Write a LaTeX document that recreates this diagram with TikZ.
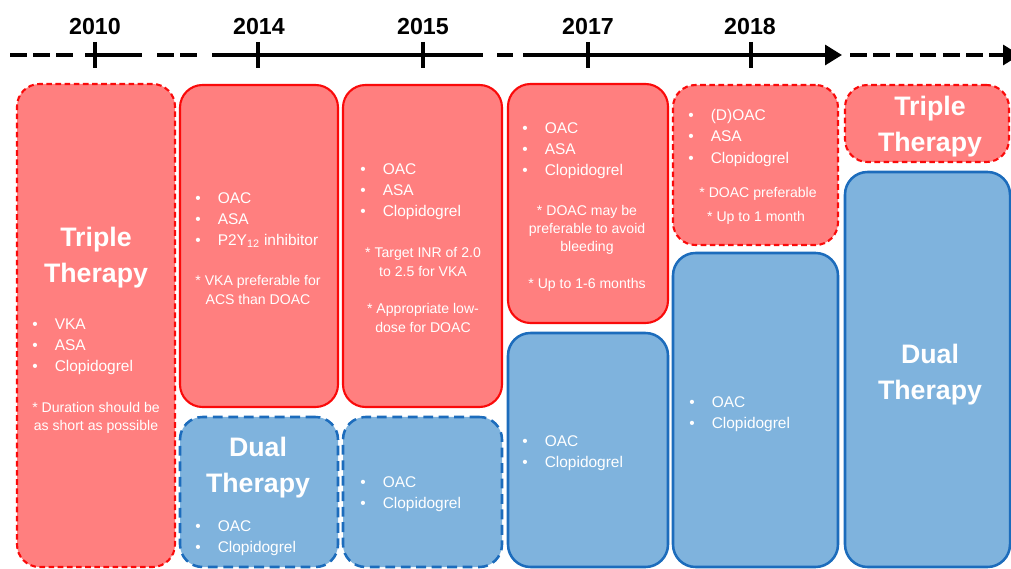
\documentclass[tikz,border=0pt]{standalone}
\usepackage{fontspec}
\setmainfont{Liberation Sans}
\usepackage{tikz}
\usetikzlibrary{arrows.meta, fit}

\definecolor{TripleFill}{RGB}{255,127,127}
\definecolor{TripleLine}{RGB}{250,10,10}
\definecolor{DualFill}{RGB}{127,179,221}
\definecolor{DualLine}{RGB}{28,108,188}

\newcommand{\itm}[1]{\makebox[16pt][l]{\textbullet}#1}

\begin{document}
\begin{tikzpicture}[x=0.025cm, y=-0.025cm, >={Triangle[length=12pt,width=14pt]},
        triple/.style={fill=TripleFill, draw=TripleLine, line width=1.5pt, rounded corners=16pt, inner sep=0pt},
        dual/.style={fill=DualFill, draw=DualLine, line width=1.8pt, rounded corners=16pt, inner sep=0pt},
        redash/.style={dash pattern=on 4pt off 2.5pt},
        bluedash/.style={dash pattern=on 7pt off 4pt},
        axis/.style={line width=2.6pt},
        axisdash/.style={axis, dash pattern=on 12pt off 4.5pt},
        tick/.style={line width=2.2pt},
        year/.style={font=\bfseries\fontsize{16.5}{18}\selectfont},
        big/.style={text=white, font=\bfseries\fontsize{19}{25.5}\selectfont, align=center},
        drug/.style={text=white, font=\fontsize{11}{15}\selectfont, align=left, anchor=west, inner sep=0pt},
        note/.style={text=white, font=\fontsize{10}{13}\selectfont, align=center, inner sep=0pt}]

    \useasboundingbox (0,0) rectangle (1011,569);
    \clip (0,0) rectangle (1011,569);

    % time line
    \draw[axisdash] (10,55) -- (78,55);
    \draw[axis] (85,55) -- (142,55);
    \draw[axisdash] (157,55) -- (201,55);
    \draw[axis] (212,55) -- (483,55);
    \draw[axis] (497,55) -- (513,55);
    \draw[axis,->] (523,55) -- (842,55);
    \draw[axisdash,->] (850,55) -- (1020,55);

    \draw[tick] (95,42) -- (95,68);
    \draw[tick] (258,42) -- (258,68);
    \draw[tick] (423,42) -- (423,68);
    \draw[tick] (588,42) -- (588,68);
    \draw[tick] (751,42) -- (751,68);

    \node[year] (y_2010) at (95,27) {2010};
    \node[year] (y_2014) at (259,27) {2014};
    \node[year] (y_2015) at (423,27) {2015};
    \node[year] (y_2017) at (588,27) {2017};
    \node[year] (y_2018) at (750,27) {2018};

    % boxes
    \node[triple, redash, fit={(17,84) (175,567)}] (tt_2010) {};
    \node[triple, fit={(180,85) (338,407)}] (tt_2014) {};
    \node[dual, bluedash, fit={(180,417) (338,567)}] (dt_2014) {};
    \node[triple, fit={(343,85) (502,407)}] (tt_2015) {};
    \node[dual, bluedash, fit={(343,417) (502,567)}] (dt_2015) {};
    \node[triple, fit={(508,84) (668,323)}] (tt_2017) {};
    \node[dual, fit={(508,333) (668,567)}] (dt_2017) {};
    \node[triple, redash, fit={(673,85) (838,245)}] (tt_2018) {};
    \node[dual, fit={(673,253) (838,567)}] (dt_2018) {};
    \node[triple, redash, fit={(845,85) (1009,162)}] (tt_next) {};
    \node[dual, fit={(845,172) (1010,567)}] (dt_next) {};

    % 2010
    \node[big] (tt_2010_lbl) at (96,258) {Triple\\Therapy};
    \node[drug] (tt_2010_drugs) at (32,347) {\itm{VKA}\\\itm{ASA}\\\itm{Clopidogrel}};
    \node[note] (tt_2010_note) at (96,418) {* Duration should be\\as short as possible};

    % 2014
    \node[drug] (tt_2014_drugs) at (195,220) {\itm{OAC}\\\itm{ASA}\\\itm{P2Y\textsubscript{12} inhibitor}};
    \node[note] (tt_2014_note) at (258,290) {* VKA preferable for\\ACS than DOAC};
    \node[big] (dt_2014_lbl) at (258,468) {Dual\\Therapy};
    \node[drug] (dt_2014_drugs) at (195,538) {\itm{OAC}\\\itm{Clopidogrel}};

    % 2015
    \node[drug] (tt_2015_drugs) at (360,192) {\itm{OAC}\\\itm{ASA}\\\itm{Clopidogrel}};
    \node[note] (tt_2015_inr) at (423,262) {* Target INR of 2.0\\to 2.5 for VKA};
    \node[note] (tt_2015_dose) at (423,318) {* Appropriate low-\\dose for DOAC};
    \node[drug] (dt_2015_drugs) at (360,494) {\itm{OAC}\\\itm{Clopidogrel}};

    % 2017
    \node[drug] (tt_2017_drugs) at (522,151) {\itm{OAC}\\\itm{ASA}\\\itm{Clopidogrel}};
    \node[note] (tt_2017_doac) at (587,230) {* DOAC may be\\preferable to avoid\\bleeding};
    \node[note] (tt_2017_time) at (587,285) {* Up to 1-6 months};
    \node[drug] (dt_2017_drugs) at (522,453) {\itm{OAC}\\\itm{Clopidogrel}};

    % 2018
    \node[drug] (tt_2018_drugs) at (688,138) {\itm{(D)OAC}\\\itm{ASA}\\\itm{Clopidogrel}};
    \node[note] (tt_2018_doac) at (758,194) {* DOAC preferable};
    \node[note] (tt_2018_time) at (756,218) {* Up to 1 month};
    \node[drug] (dt_2018_drugs) at (689,414) {\itm{OAC}\\\itm{Clopidogrel}};

    % later
    \node[big] (tt_next_lbl) at (930,127) {Triple\\Therapy};
    \node[big] (dt_next_lbl) at (930,375) {Dual\\Therapy};
\end{tikzpicture}
\end{document}
